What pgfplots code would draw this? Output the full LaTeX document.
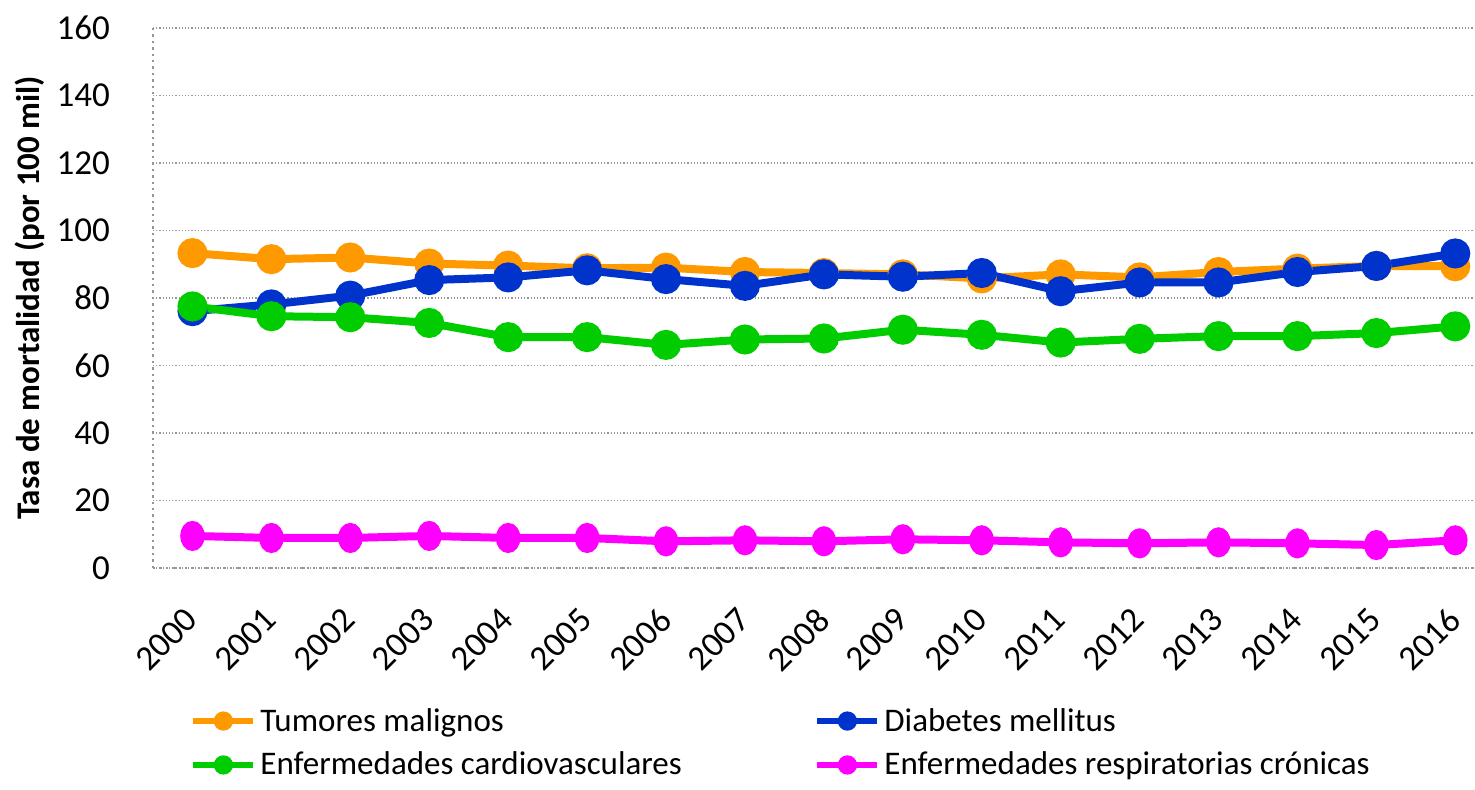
\documentclass[border=0pt]{standalone}
\usepackage{fontspec}
\setmainfont{Carlito}
\usepackage{pgfplots}
\pgfplotsset{compat=1.18}

\definecolor{tumor}{RGB}{255,153,0}
\definecolor{diab}{RGB}{0,51,204}
\definecolor{cardio}{RGB}{0,204,0}
\definecolor{resp}{RGB}{255,0,255}
\definecolor{gridgray}{RGB}{150,150,150}

\begin{document}
\begin{tikzpicture}
\useasboundingbox (0,0) rectangle (737.5pt,395pt);
\begin{axis}[
    at={(76.5pt,111pt)}, anchor=south west,
    scale only axis,
    width=661pt, height=270pt,
    xmin=-0.5, xmax=16.25,
    ymin=0, ymax=160,
    ytick={0,20,...,160},
    xtick={0,...,16},
    xticklabels={2000,2001,2002,2003,2004,2005,2006,2007,2008,2009,2010,2011,2012,2013,2014,2015,2016},
    axis x line*=bottom, axis y line*=left,
    axis line style={gridgray, line width=1.2pt, dotted, -},
    major tick length=0pt,
    ymajorgrids,
    grid style={gridgray, line width=0.6pt, densely dotted},
    /pgf/number format/assume math mode=true,
    tick label style={font=\fontsize{17.5}{20}\selectfont},
    yticklabel style={xshift=-18pt},
    xticklabel style={rotate=45, anchor=north east, xshift=-15.5pt, yshift=-9pt, inner sep=1pt},
    ylabel={Tasa de mortalidad (por 100 mil)},
    ylabel style={at={(axis description cs:-0.093,0.5)}, anchor=center, font=\fontsize{16.5}{18}\bfseries},
    legend columns=2,
    legend cell align=left,
    legend style={at={(0.028,-0.255)}, anchor=north west, draw=none, fill=none,
        font=\fontsize{16.5}{18}\selectfont, inner sep=0pt, row sep=7pt,
        nodes={inner sep=1pt},
        /tikz/every odd column/.append style={column sep=1pt}},
    legend image code/.code={
        \draw[#1, line width=3pt, mark options={scale=0.6}, mark repeat=2, mark phase=2]
            plot coordinates {(0pt,0pt) (15pt,0pt) (30pt,0pt)};},
    every axis plot/.append style={line width=4pt, mark=*, mark size=5.5pt},
]
\addplot[tumor, mark options={fill=tumor, draw=tumor}] coordinates {
(0,93.3) (1,91.5) (2,92.0) (3,90.2) (4,89.6) (5,88.8) (6,89.0) (7,87.7) (8,87.4)
(9,87.0) (10,85.8) (11,87.0) (12,86.1) (13,87.7) (14,88.7) (15,89.5) (16,89.4)};
\addlegendentry{\makebox[276pt][l]{Tumores malignos}}
\addplot[diab, mark options={fill=diab, draw=diab}] coordinates {
(0,76.1) (1,78.1) (2,80.7) (3,85.3) (4,86.1) (5,88.2) (6,85.6) (7,83.6) (8,87.0)
(9,86.3) (10,87.4) (11,82.0) (12,84.6) (13,84.6) (14,87.7) (15,89.5) (16,93.2)};
\addlegendentry{Diabetes mellitus}
\addplot[cardio, mark options={fill=cardio, draw=cardio}] coordinates {
(0,77.5) (1,74.6) (2,74.3) (3,72.6) (4,68.4) (5,68.4) (6,66.1) (7,67.7) (8,68.0)
(9,70.6) (10,69.1) (11,66.8) (12,67.9) (13,68.7) (14,68.7) (15,69.6) (16,71.6)};
\addlegendentry{\makebox[276pt][l]{Enfermedades cardiovasculares}}
\addplot[resp, mark options={fill=resp, draw=resp, xscale=0.75}] coordinates {
(0,9.5) (1,8.9) (2,8.9) (3,9.5) (4,8.9) (5,8.9) (6,7.9) (7,8.2) (8,7.9)
(9,8.5) (10,8.2) (11,7.6) (12,7.3) (13,7.6) (14,7.3) (15,6.8) (16,8.2)};
\addlegendentry{Enfermedades respiratorias crónicas}
\end{axis}
\end{tikzpicture}
\end{document}
